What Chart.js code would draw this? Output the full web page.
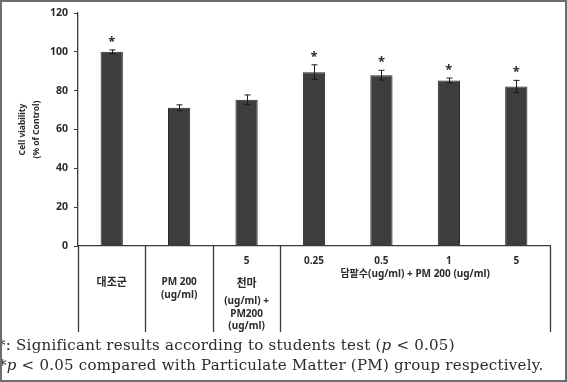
<!DOCTYPE html>
<html><head><meta charset="utf-8">
<style>html,body{margin:0;padding:0;background:#fff;}#wrap{width:567px;height:382px;position:relative;}</style>
<script src="https://cdn.jsdelivr.net/npm/chart.js@4.4.1/dist/chart.umd.min.js"></script>
</head><body><div id="wrap"><canvas id="c" width="567" height="382"></canvas></div>
<script>
// ---- data ----
const categories = ['대조군', 'PM 200 (ug/ml)', '천마 5', '담팔수 0.25', '담팔수 0.5', '담팔수 1', '담팔수 5'];
const viability = [100, 71.2, 75.3, 89.5, 88, 85.3, 82.2];
const errors = [1, 1.5, 2.5, 3.8, 2.5, 1.2, 3.1];
const significant = [true, false, false, true, true, true, true];
const yTicks = [0, 20, 40, 60, 80, 100, 120];
const doseLabels = ['', '', '5', '0.25', '0.5', '1', '5'];
const nameLabels = [['대조군'], ['PM 200', '(ug/ml)'], ['천마', '(ug/ml) +', 'PM200', '(ug/ml)'], [], [], [], []];
const groupLabel = '담팔수(ug/ml) + PM 200 (ug/ml)';
const groupStart = 3, groupEnd = 6;
const yTitle = ['Cell viability', '(% of Control)'];
const footnote1 = ['*: Significant results according to students test (', 'p', ' < 0.05)'];
const footnote2 = ['*', 'p', ' < 0.05 compared with Particulate Matter (PM) group respectively.'];

const SANS = '"Noto Sans", "Noto Sans CJK KR", sans-serif';
const INK = '#2b2b2b';

const overlay = {
  id: 'overlay',
  afterDatasetsDraw(chart) {
    const ctx = chart.ctx;
    const meta = chart.getDatasetMeta(0);
    const y = chart.scales.y;
    const x = chart.scales.x;
    const area = chart.chartArea;
    ctx.save();
    // error bars + asterisks
    ctx.strokeStyle = '#1a1a1a';
    ctx.lineWidth = 1;
    meta.data.forEach((bar, i) => {
      const cx = Math.round(bar.x) + 0.5;
      const yt = y.getPixelForValue(viability[i] + errors[i]);
      const yb = y.getPixelForValue(viability[i] - errors[i]);
      ctx.beginPath();
      ctx.moveTo(cx, yt); ctx.lineTo(cx, yb);
      ctx.moveTo(cx - 3, yt); ctx.lineTo(cx + 3, yt);
      ctx.moveTo(cx - 3, yb); ctx.lineTo(cx + 3, yb);
      ctx.stroke();
      if (significant[i]) {
        ctx.fillStyle = INK;
        ctx.font = 'bold 13px ' + SANS;
        ctx.textAlign = 'center';
        ctx.textBaseline = 'middle';
        ctx.fillText('*', bar.x, yt - 8);
      }
    });
    // table under x axis
    const n = categories.length;
    const bottom = 332;
    const edge = k => x.getPixelForValue(k - 0.5);
    ctx.strokeStyle = '#3a3a3a';
    ctx.lineWidth = 1.3;
    const seps = [0, 1, 2, 3, n];
    seps.forEach(k => {
      const px = Math.round(edge(k)) + 0.5;
      ctx.beginPath(); ctx.moveTo(px, area.bottom); ctx.lineTo(px, bottom); ctx.stroke();
    });
    ctx.fillStyle = INK;
    ctx.textAlign = 'center';
    ctx.textBaseline = 'middle';
    for (let i = 0; i < n; i++) {
      const cx = x.getPixelForValue(i);
      if (doseLabels[i]) {
        ctx.font = 'bold 10px ' + SANS;
        ctx.fillText(doseLabels[i], cx, 261);
      }
      const lines = nameLabels[i];
      if (lines.length === 1) {
        ctx.font = 'bold 11px ' + SANS;
        ctx.fillText(lines[0], cx, 283);
      } else if (lines.length === 2) {
        ctx.font = 'bold 10px ' + SANS;
        ctx.fillText(lines[0], cx, 282);
        ctx.fillText(lines[1], cx, 295);
      } else if (lines.length === 4) {
        ctx.font = 'bold 11px ' + SANS;
        ctx.fillText(lines[0], cx, 284);
        ctx.font = 'bold 10px ' + SANS;
        ctx.fillText(lines[1], cx, 301);
        ctx.fillText(lines[2], cx, 314);
        ctx.fillText(lines[3], cx, 326);
      }
    }
    ctx.font = 'bold 10px ' + SANS;
    ctx.fillText(groupLabel, (edge(groupStart) + edge(groupEnd + 1)) / 2, 274);
    // footnotes
    const drawRuns = (runs, x0, yy) => {
      let px = x0;
      ctx.textAlign = 'left';
      ctx.textBaseline = 'middle';
      ctx.letterSpacing = '0.25px';
      runs.forEach((t) => {
        const italic = t === 'p';
        ctx.font = (italic ? 'italic ' : '') + '15px "DejaVu Serif", serif';
        ctx.fillStyle = '#2a2a2a';
        ctx.fillText(t, px, yy);
        px += ctx.measureText(t).width;
      });
      ctx.letterSpacing = '0px';
    };
    drawRuns(footnote1, -2, 346);
    drawRuns(footnote2, -1, 366);
    // frame
    ctx.strokeStyle = '#6e6e6e';
    ctx.lineWidth = 2;
    ctx.strokeRect(1, 1, 565, 380);
    ctx.restore();
  }
};

new Chart(document.getElementById('c'), {
  type: 'bar',
  data: {
    labels: categories,
    datasets: [{
      data: viability,
      backgroundColor: '#3d3d3d',
      borderColor: '#262626',
      borderWidth: 1,
      barPercentage: 0.33,
      categoryPercentage: 1
    }]
  },
  options: {
    responsive: false,
    animation: false,
    devicePixelRatio: 1,
    layout: { padding: { top: 13, right: 17, bottom: 0, left: 0 } },
    plugins: { legend: { display: false }, tooltip: { enabled: false } },
    scales: {
      x: {
        grid: { display: false, drawTicks: false },
        border: { display: true, color: '#3a3a3a', width: 1.3 },
        ticks: { display: false },
        afterFit(s) { s.height = 136; }
      },
      y: {
        min: 0, max: 120,
        afterBuildTicks(s) { s.ticks = yTicks.map(v => ({ value: v })); },
        grid: { drawOnChartArea: false, drawTicks: true, tickLength: 4, color: '#3a3a3a' },
        border: { display: true, color: '#3a3a3a', width: 1.3 },
        ticks: { font: { family: SANS, weight: 'bold', size: 10.5 }, color: INK, padding: 6 },
        title: { display: true, text: yTitle, font: { family: SANS, weight: 'bold', size: 8.5, lineHeight: 1.7 }, color: INK, padding: { top: 15, bottom: 0 } },
        afterFit(s) { s.width = 78; }
      }
    }
  },
  plugins: [overlay]
});
</script></body></html>
